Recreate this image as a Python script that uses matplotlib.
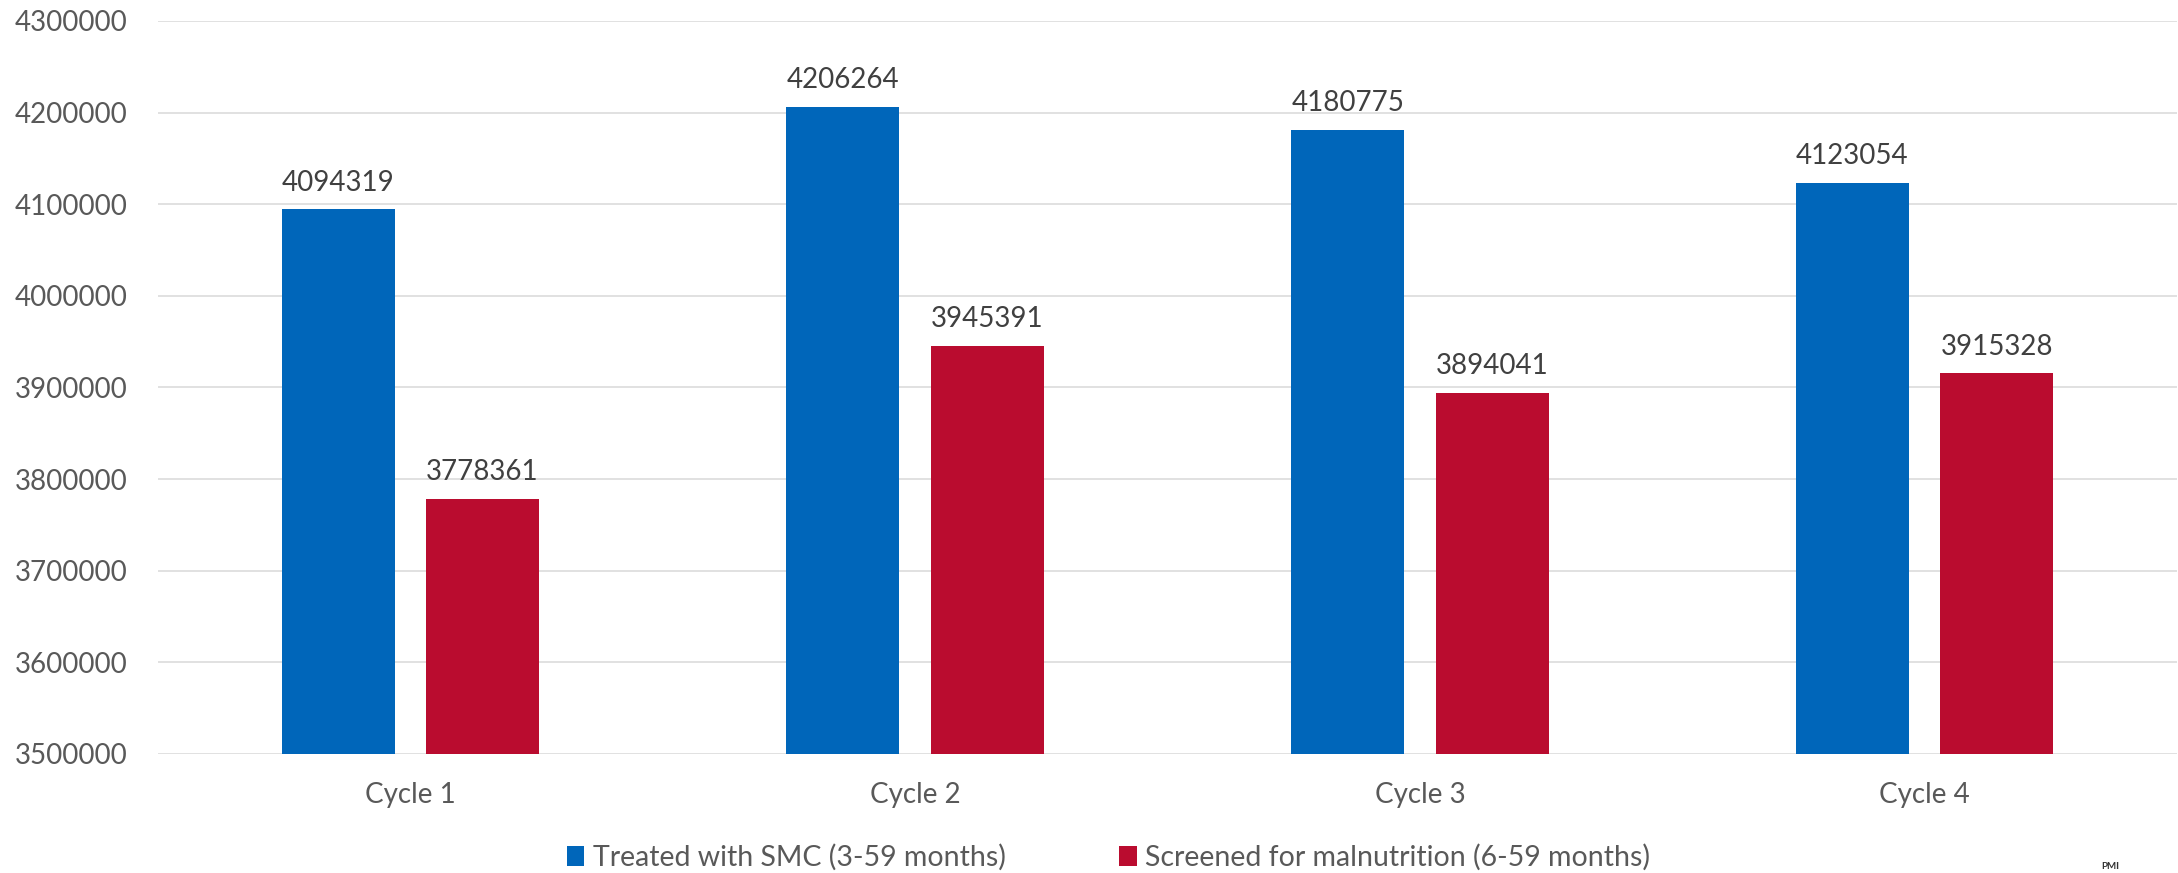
import matplotlib
matplotlib.use("Agg")
import matplotlib.pyplot as plt
from matplotlib.patches import Patch
import numpy as np

categories = ["Cycle 1", "Cycle 2", "Cycle 3", "Cycle 4"]
series_names = ["Treated with SMC (3-59 months)", "Screened for malnutrition (6-59 months)"]
treated = [4094319, 4206264, 4180775, 4123054]
screened = [3778361, 3945391, 3894041, 3915328]
yticks = [3500000, 3600000, 3700000, 3800000, 3900000, 4000000, 4100000, 4200000, 4300000]

colors = ["#0066BA", "#BA0C2F"]

plt.rcParams['font.family'] = ['Lato', 'DejaVu Sans']

fig = plt.figure(figsize=(21.78, 8.73), dpi=100)
ax = fig.add_axes([158/2178, 1-754/873, (2177-158)/2178, (754-21)/873])

x = np.arange(len(categories))
w = 0.224
off = 0.143
b1 = ax.bar(x - off, treated, w, color=colors[0], zorder=3)
b2 = ax.bar(x + off, screened, w, color=colors[1], zorder=3)

for bars, vals in ((b1, treated), (b2, screened)):
    for rect, v in zip(bars, vals):
        ax.annotate(str(v), (rect.get_x() + rect.get_width()/2, v),
                    xytext=(0, 10), textcoords="offset points",
                    ha="center", va="bottom", fontsize=20, color="#404040")

ax.set_xlim(-0.5, len(categories) - 0.5)
ax.set_ylim(yticks[0], yticks[-1])
ax.set_yticks(yticks)
ax.set_yticklabels([str(t) for t in yticks])
ax.set_xticks(x)
ax.set_xticklabels(categories)
ax.tick_params(axis='y', length=0, pad=22, labelsize=20, labelcolor="#595959")
ax.tick_params(axis='x', length=0, pad=20, labelsize=20, labelcolor="#595959")
ax.grid(axis='y', color="#D9D9D9", linewidth=1.1, zorder=0)
for s in ax.spines.values():
    s.set_visible(False)

handles = [Patch(facecolor=c, edgecolor='none') for c in colors]
fig.legend(handles, series_names, loc="center", bbox_to_anchor=(0.509, 0.018),
           ncol=2, frameon=False, fontsize=20.5, labelcolor="#595959",
           handlelength=0.6, handleheight=0.7, handletextpad=0.3, columnspacing=4.0)

fig.text(2110/2178, 2/873, "PMI", fontsize=7, fontweight="bold", color="#333333",
         ha="center", va="bottom")

fig.savefig("out.png", dpi=100)
